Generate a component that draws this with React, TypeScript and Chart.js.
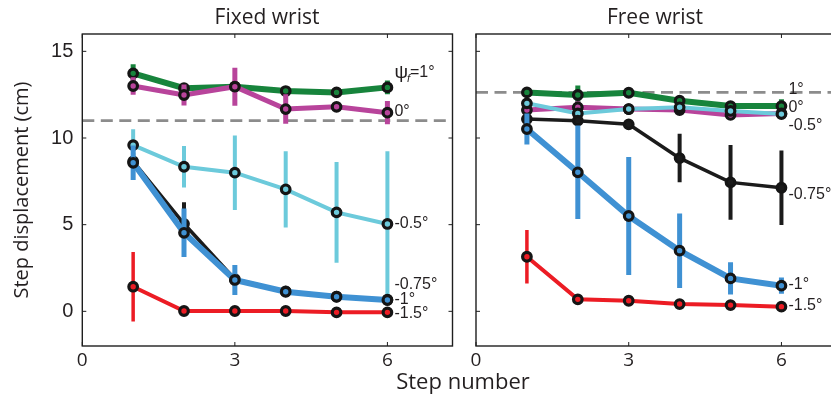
import React, { useEffect, useRef } from "react";
import { Chart, registerables } from "chart.js";

Chart.register(...registerables);

// ---------- data ----------
const steps = [1, 2, 3, 4, 5, 6];
const xTickValues = [0, 3, 6];
const yTickValues = [0, 5, 10, 15];
const xMax = 7.28;
const yMin = -2;
const yMax = 16;

// Fixed wrist
const fixedRed = [1.42, 0.02, 0.02, 0.02, -0.06, -0.06];
const fixedRedErr = [2.0, 0.1, 0.1, 0.1, 0.1, 0.1];
const fixedBlue = [8.57, 4.53, 1.81, 1.13, 0.84, 0.65];
const fixedBlueErr = [1.0, 1.4, 0.87, 0.3, 0.15, 0.15];
const fixedBlack = [8.65, 5.05, 1.85, 1.15, 0.85, 0.67];
const fixedBlackErr = [0.5, 1.25, 0.4, 0.2, 0.15, 0.15];
const fixedCyan = [9.59, 8.34, 8.0, 7.04, 5.71, 5.04];
const fixedCyanErr = [0.92, 1.2, 2.15, 2.2, 2.9, 4.2];
const fixedMagenta = [13.0, 12.48, 12.96, 11.67, 11.8, 11.46];
const fixedMagentaErr = [0.5, 0.6, 1.1, 0.85, 0.2, 0.67];
const fixedGreen = [13.73, 12.87, 12.96, 12.71, 12.63, 12.92];
const fixedGreenErr = [0.52, 0.25, 0.25, 0.2, 0.2, 0.4];
const fixedReference = 11.0;
const fixedLabelText = ["-1.5°", "-1°", "-0.75°", "-0.5°", "0°", "=1°"];
const fixedLabelY = [-0.12, 0.65, 1.52, 5.08, 11.55, 13.75];

// Free wrist
const freeRed = [3.15, 0.69, 0.61, 0.42, 0.36, 0.27];
const freeRedErr = [1.54, 0.1, 0.1, 0.1, 0.1, 0.1];
const freeBlue = [10.52, 8.02, 5.5, 3.5, 1.9, 1.48];
const freeBlueErr = [0.9, 2.7, 3.4, 2.15, 0.93, 0.47];
const freeBlack = [11.09, 11.0, 10.79, 8.84, 7.44, 7.13];
const freeBlackErr = [0.15, 0.15, 0.15, 1.4, 2.15, 2.15];
const freeCyan = [12.0, 11.42, 11.67, 11.77, 11.56, 11.38];
const freeCyanErr = [0.15, 0.15, 0.15, 0.15, 0.15, 0.15];
const freeMagenta = [11.61, 11.77, 11.67, 11.61, 11.33, 11.42];
const freeMagentaErr = [0.2, 0.35, 0.2, 0.25, 0.2, 0.2];
const freeGreen = [12.63, 12.48, 12.61, 12.15, 11.84, 11.84];
const freeGreenErr = [0.25, 0.55, 0.2, 0.25, 0.2, 0.4];
const freeReference = 12.63;
const freeLabelText = ["-1.5°", "-1°", "-0.75°", "-0.5°", "0°", "1°"];
const freeLabelY = [0.33, 1.52, 6.71, 10.69, 11.77, 12.77];

// ---------- styles ----------
const seriesColors = ["#ec1c24", "#3f91d3", "#1b1b1b", "#6ccadb", "#b8449b", "#17843c"];
const lineWidths = [4, 6, 3.5, 4, 5, 6];
const errWidths = [3.5, 5, 4, 4, 5, 5];
const TEXT = "#231f20";

type Label = { text: string; y: number; psi?: boolean };

function buildDatasets(values: number[][], errors: number[][]) {
  return values.map((vals, i) => ({
    label: String(i),
    data: vals.map((v, k) => ({ x: steps[k], y: v })),
    errors: errors[i],
    errWidth: errWidths[i],
    borderColor: seriesColors[i],
    backgroundColor: seriesColors[i],
    borderWidth: lineWidths[i],
    pointRadius: 4.3,
    pointBorderWidth: 3.2,
    pointBorderColor: "#151515",
    pointBackgroundColor: seriesColors[i],
    tension: 0,
    fill: false,
  }));
}

const decoPlugin = {
  id: "deco",
  beforeDatasetsDraw(chart: any, _args: any, opts: any) {
    const { ctx, chartArea: a, scales } = chart;
    const yv = scales.y.getPixelForValue(opts.refValue);
    ctx.save();
    ctx.strokeStyle = "#8c8c8c";
    ctx.lineWidth = 2.6;
    ctx.setLineDash([12, 6.5]);
    ctx.beginPath();
    ctx.moveTo(a.left, yv);
    ctx.lineTo(a.right, yv);
    ctx.stroke();
    ctx.restore();
  },
  beforeDatasetDraw(chart: any, args: any) {
    const { ctx, chartArea: a, scales } = chart;
    const ds = chart.data.datasets[args.index];
    const errs: number[] = ds.errors || [];
    ctx.save();
    ctx.beginPath();
    ctx.rect(a.left, a.top, a.right - a.left, a.bottom - a.top);
    ctx.clip();
    ctx.strokeStyle = ds.borderColor;
    ctx.lineWidth = ds.errWidth;
    ctx.lineCap = "butt";
    ds.data.forEach((p: any, k: number) => {
      const e = errs[k];
      if (!e) return;
      const px = scales.x.getPixelForValue(p.x);
      ctx.beginPath();
      ctx.moveTo(px, scales.y.getPixelForValue(p.y + e));
      ctx.lineTo(px, scales.y.getPixelForValue(p.y - e));
      ctx.stroke();
    });
    ctx.restore();
  },
  afterDatasetsDraw(chart: any, _args: any, opts: any) {
    const { ctx, chartArea: a, scales } = chart;
    // labels
    ctx.save();
    ctx.fillStyle = TEXT;
    ctx.textBaseline = "middle";
    ctx.textAlign = "left";
    const lx = scales.x.getPixelForValue(steps[steps.length - 1]) + 7;
    (opts.labels as Label[]).forEach((l) => {
      const ly = scales.y.getPixelForValue(l.y);
      if (l.psi) {
        ctx.font = "19px 'Liberation Sans', Arial, sans-serif";
        ctx.fillText("ψ", lx, ly);
        const w = ctx.measureText("ψ").width;
        ctx.font = "italic 11px 'Liberation Sans', Arial, sans-serif";
        ctx.fillText("f", lx + w - 1, ly + 6);
        ctx.font = "16px 'Liberation Sans', Arial, sans-serif";
        ctx.fillText(l.text, lx + w + 2, ly);
      } else {
        ctx.font = "16px 'Liberation Sans', Arial, sans-serif";
        ctx.fillText(l.text, lx, ly);
      }
    });
    ctx.restore();
    // frame and inward ticks
    ctx.save();
    ctx.strokeStyle = "#1e1e1e";
    ctx.lineWidth = 1.4;
    ctx.strokeRect(a.left, a.top, a.right - a.left, a.bottom - a.top);
    ctx.lineWidth = 1;
    const tl = 4;
    ctx.beginPath();
    xTickValues.forEach((v) => {
      const px = scales.x.getPixelForValue(v);
      ctx.moveTo(px, a.bottom);
      ctx.lineTo(px, a.bottom - tl);
      ctx.moveTo(px, a.top);
      ctx.lineTo(px, a.top + tl);
    });
    yTickValues.forEach((v) => {
      const py = scales.y.getPixelForValue(v);
      ctx.moveTo(a.left, py);
      ctx.lineTo(a.left + tl, py);
      ctx.moveTo(a.right, py);
      ctx.lineTo(a.right - tl, py);
    });
    ctx.stroke();
    ctx.restore();
  },
};

function makeConfig(
  datasets: any[],
  refValue: number,
  labels: Label[],
  showY: boolean,
  yWidth: number,
  padRight: number
): any {
  return {
    type: "line",
    data: { datasets },
    plugins: [decoPlugin],
    options: {
      animation: false,
      responsive: false,
      events: [],
      layout: { padding: { left: 0, top: 34, right: padRight, bottom: 0 } },
      plugins: {
        legend: { display: false },
        tooltip: { enabled: false },
        title: { display: false },
        deco: { refValue, labels },
      },
      scales: {
        x: {
          type: "linear",
          min: 0,
          max: xMax,
          afterBuildTicks: (s: any) => {
            s.ticks = xTickValues.map((v) => ({ value: v }));
          },
          afterFit: (s: any) => {
            s.height = 50;
          },
          grid: { display: false, drawTicks: false },
          border: { display: false },
          ticks: {
            padding: 3,
            color: TEXT,
            maxRotation: 0,
            font: { family: "'Open Sans', sans-serif", size: 19 },
          },
        },
        y: {
          type: "linear",
          min: yMin,
          max: yMax,
          afterBuildTicks: (s: any) => {
            s.ticks = yTickValues.map((v) => ({ value: v }));
          },
          afterFit: (s: any) => {
            s.width = yWidth;
          },
          grid: { display: false, drawTicks: false },
          border: { display: false },
          ticks: {
            display: showY,
            padding: 9,
            color: TEXT,
            font: { family: "'Liberation Sans', Arial, sans-serif", size: 20 },
          },
          title: {
            display: showY,
            text: "Step displacement (cm)",
            color: TEXT,
            padding: { top: 10, bottom: 0 },
            font: { family: "'Open Sans', sans-serif", size: 20 },
          },
        },
      },
    },
  };
}

function toLabels(texts: string[], ys: number[], psiLast: boolean): Label[] {
  return texts.map((t, i) => ({
    text: t,
    y: ys[i],
    psi: psiLast && i === texts.length - 1,
  }));
}

export default function App() {
  const leftRef = useRef<HTMLCanvasElement | null>(null);
  const rightRef = useRef<HTMLCanvasElement | null>(null);

  useEffect(() => {
    const leftDs = buildDatasets(
      [fixedRed, fixedBlue, fixedBlack, fixedCyan, fixedMagenta, fixedGreen],
      [fixedRedErr, fixedBlueErr, fixedBlackErr, fixedCyanErr, fixedMagentaErr, fixedGreenErr]
    );
    const rightDs = buildDatasets(
      [freeRed, freeBlue, freeBlack, freeCyan, freeMagenta, freeGreen],
      [freeRedErr, freeBlueErr, freeBlackErr, freeCyanErr, freeMagentaErr, freeGreenErr]
    );
    const c1 = new Chart(
      leftRef.current as HTMLCanvasElement,
      makeConfig(leftDs, fixedReference, toLabels(fixedLabelText, fixedLabelY, true), true, 82.3, 7.3)
    );
    const c2 = new Chart(
      rightRef.current as HTMLCanvasElement,
      makeConfig(rightDs, freeReference, toLabels(freeLabelText, freeLabelY, false), false, 16, 13.4)
    );
    return () => {
      c1.destroy();
      c2.destroy();
    };
  }, []);

  const titleStyle: React.CSSProperties = {
    position: "absolute",
    top: 2,
    fontFamily: "'Open Sans', sans-serif",
    fontSize: 21,
    color: TEXT,
    lineHeight: "28px",
    transform: "translateX(-50%)",
    whiteSpace: "nowrap",
  };

  return (
    <div
      style={{
        position: "fixed",
        left: 0,
        top: 0,
        width: 831,
        height: 396,
        overflow: "hidden",
        background: "#fff",
      }}
    >
      <canvas
        ref={leftRef}
        width={460}
        height={396}
        style={{ position: "absolute", left: 0, top: 0, width: 460, height: 396 }}
      />
      <canvas
        ref={rightRef}
        width={400}
        height={396}
        style={{ position: "absolute", left: 460, top: 0, width: 400, height: 396 }}
      />
      <div style={{ ...titleStyle, left: 267 }}>Fixed wrist</div>
      <div style={{ ...titleStyle, left: 655 }}>Free wrist</div>
      <div style={{ ...titleStyle, top: 366, left: 463, fontSize: 22 }}>Step number</div>
    </div>
  );
}
